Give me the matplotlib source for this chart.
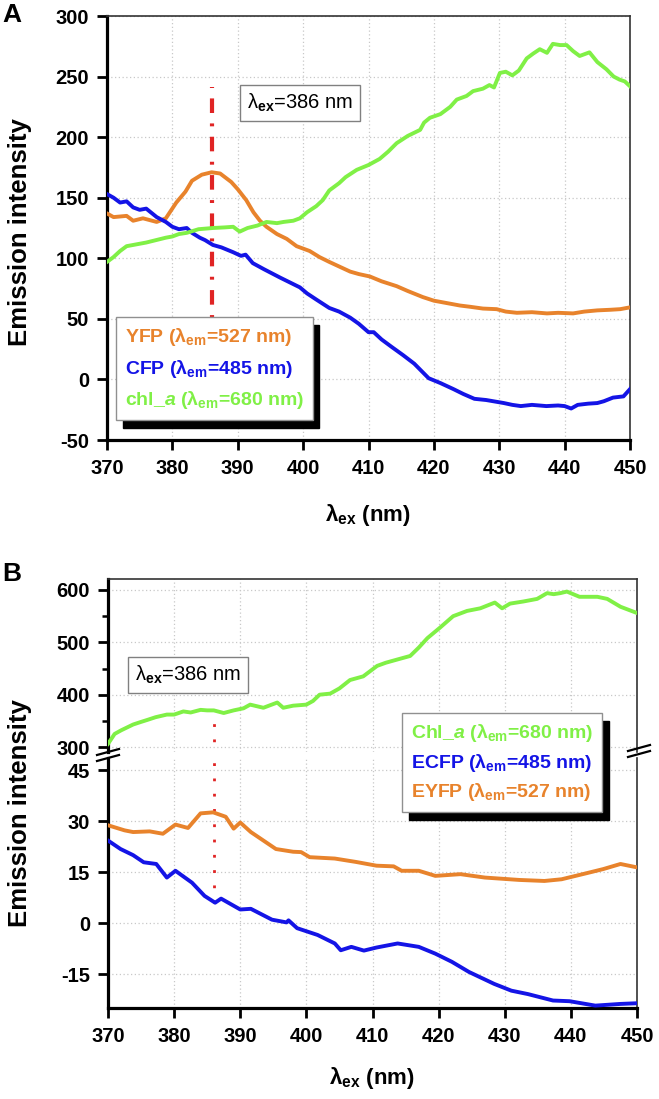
import matplotlib
matplotlib.use('Agg')
import matplotlib.pyplot as plt
from matplotlib.lines import Line2D
from matplotlib.ticker import MultipleLocator

plt.rcParams['font.family'] = ['Liberation Sans', 'DejaVu Sans']
plt.rcParams['font.weight'] = 'bold'
plt.rcParams['axes.unicode_minus'] = False
plt.rcParams['mathtext.fontset'] = 'custom'
plt.rcParams['mathtext.rm'] = 'Liberation Sans'
plt.rcParams['mathtext.bf'] = 'Liberation Sans:bold'
plt.rcParams['mathtext.it'] = 'Liberation Sans:italic:bold'

ORANGE = '#E8832C'
BLUE = '#1414E6'
GREEN = '#80F046'
RED = '#E02424'

# ---- panel A data ----
a_yfp_x = [370, 371, 373, 374, 375.5, 377.6, 379, 380.6, 382, 383, 384.5, 386, 387.3, 389, 390,
           391.3, 392.4, 393.4, 394.4, 396, 397.5, 399, 401, 402.5, 404, 405.6, 407.2, 408.5,
           410.2, 412, 414.3, 416, 418.3, 420, 422, 424, 425.5, 427.5, 429.6, 431, 432.7, 435,
           437.3, 439, 441.3, 443, 445, 447, 448.5, 450]
a_yfp_y = [137, 134, 135, 131, 133, 130, 133, 146, 155, 164, 169, 171, 170, 163, 157,
           148, 138, 131, 126, 120, 116, 110, 106, 101, 97, 93, 89, 87,
           85, 81, 77, 73, 68, 65, 63, 61, 60, 58.5, 58, 56, 55, 55.5,
           54.5, 55, 54.5, 56, 57, 57.5, 58, 59.5]

a_cfp_x = [370, 371, 372, 373, 374, 375, 376, 377.6, 379, 380, 381, 382.2, 383, 384.2, 385,
           386.2, 387.5, 389.3, 390.5, 391.2, 392.3, 394, 396.5, 398, 399.5, 400.6, 402, 404,
           405.5, 407.2, 408.5, 410, 410.8, 412, 413.5, 415.3, 417, 419.2, 421, 423, 424.5,
           426.2, 428, 430.7, 432, 433.3, 435, 437.2, 439, 440, 441, 442, 443.6, 445, 446,
           447.4, 449, 450]
a_cfp_y = [153, 150, 146, 147, 142, 140, 141, 134, 130, 126, 124, 125, 121, 117, 115,
           111, 109, 105, 102, 103, 96, 91, 84, 80, 76, 71, 66, 59,
           56, 51, 46, 39, 39, 33, 27, 20, 13, 1, -3, -8, -12,
           -16, -17, -19.5, -21, -22, -21, -22, -21.5, -22, -24, -21, -20, -19.5, -18,
           -15, -14, -8]

a_chl_x = [370, 371, 372, 373, 374, 376, 377.5, 379, 380, 381, 382.2, 384, 386.2, 388, 389.3,
           390.3, 391.5, 393, 394.4, 396, 397, 398.5, 399.5, 400.6, 402, 403, 404, 405.5,
           406.5, 408.2, 410, 411.7, 413, 414.3, 416, 417.9, 418.5, 419.4, 421, 422.5, 423.5,
           425, 426, 427.5, 428.5, 429.2, 430.1, 431, 432, 433, 434.2, 435.2, 436.2, 437.3,
           438.2, 439.3, 440.3, 441.3, 442.3, 443.8, 445, 446.4, 447.5, 448.4, 449.2, 450]
a_chl_y = [97, 101, 106, 110, 111, 113, 115, 117, 118, 120, 121, 124, 125, 125.5, 126,
           122, 125, 127, 130, 129, 130, 131, 133, 138, 143, 148, 156, 162,
           167, 173, 177, 182, 188, 195, 201, 206, 212, 216, 219, 225, 231,
           234, 238, 240, 243, 241, 253, 254, 251, 255, 265, 269, 272.6, 269.6,
           277, 276, 276, 271, 267, 270, 262, 256, 250, 247.5, 246, 242]

# ---- panel B data ----
b_chl_x = [370, 371, 372, 373.8, 375, 376, 377.2, 378.9, 380, 381.4, 382.5, 384, 385, 386,
           387.5, 389, 390.5, 391.5, 393.5, 395.6, 396.5, 398, 400, 401, 402, 403.6, 405,
           406.6, 408.6, 410.7, 412, 413.7, 415.7, 417, 418.3, 420.2, 422.2, 424.3, 426.3,
           428.5, 429.6, 430.8, 432.8, 434.9, 436.4, 437.4, 438.4, 439.4, 441.3, 444, 445.5,
           447.5, 450]
b_chl_y = [306, 325, 332, 343, 348, 352, 357, 362, 362, 368, 366, 371, 370, 370,
           365, 370, 374, 381, 375, 385, 375, 379, 381, 388, 400, 402, 412,
           428, 435, 455, 461, 467, 474, 490, 508, 528, 550, 560, 565,
           576, 565, 574, 578, 583, 594, 592, 594, 597, 587, 587, 583,
           568, 556]

b_eyfp_x = [370, 372.5, 373.8, 376.3, 378.3, 380.2, 382.1, 384, 385.9, 387.8, 389, 390, 391.6,
            395.4, 398, 399.2, 400.5, 404.3, 407.5, 410.6, 413.2, 414.4, 417, 419.5, 423.3,
            427, 432.2, 436, 438.6, 442.4, 444.9, 447.5, 450]
b_eyfp_y = [28.8, 27.3, 26.8, 27, 26.3, 29, 28, 32.3, 32.6, 31.3, 27.8, 29.6, 26.8,
            21.8, 21, 20.9, 19.4, 19, 18, 16.9, 16.7, 15.4, 15.4, 13.9, 14.4,
            13.4, 12.7, 12.4, 12.9, 14.7, 15.9, 17.4, 16.4]

b_ecfp_x = [370, 371.9, 373.8, 375.4, 377.3, 378.9, 380.2, 382.7, 384.6, 386.2, 387.1, 390,
            391.6, 394.8, 397, 397.3, 398.6, 401.7, 404.3, 405.2, 406.8, 408.7, 410.6, 413.8,
            417, 419.5, 422, 424.6, 428.4, 431, 433.5, 437.3, 439.8, 443.7, 447.5, 450]
b_ecfp_y = [24.3, 21.8, 20, 17.9, 17.4, 13.4, 15.4, 11.9, 8, 6, 7.2, 4,
            4.2, 1, 0.2, 0.8, -1.5, -3.5, -6, -8, -7, -8.1, -7.2, -6,
            -7, -9, -11.4, -14.4, -17.9, -19.9, -20.9, -22.8, -23, -24.3, -23.8, -23.6]

x_ticks = [370, 380, 390, 400, 410, 420, 430, 440, 450]
a_labels = ['YFP (λ$_{\\mathbf{em}}$=527 nm)', 'CFP (λ$_{\\mathbf{em}}$=485 nm)',
            'chl_$\\mathit{a}$ (λ$_{\\mathbf{em}}$=680 nm)']
b_labels = ['Chl_$\\mathit{a}$ (λ$_{\\mathbf{em}}$=680 nm)', 'ECFP (λ$_{\\mathbf{em}}$=485 nm)',
            'EYFP (λ$_{\\mathbf{em}}$=527 nm)']

W, H = 659, 1099
fig = plt.figure(figsize=(W / 100, H / 100), dpi=100)


def box(x0, y0, x1, y1):
    # pixel box (top-left origin) -> figure rect
    return [x0 / W, 1 - y1 / H, (x1 - x0) / W, (y1 - y0) / H]


def style(ax):
    for s in ['left', 'bottom']:
        ax.spines[s].set_linewidth(2.3)
        ax.spines[s].set_color('black')
    for s in ['top', 'right']:
        ax.spines[s].set_linewidth(1.2)
        ax.spines[s].set_color('#333333')
    ax.tick_params(axis='both', direction='out', length=7, width=2, labelsize=14.5)
    ax.tick_params(axis='x', pad=7)
    ax.tick_params(axis='y', pad=6)
    ax.tick_params(top=False, right=False)
    ax.grid(True, color='#c8c8c8', linestyle=(0, (1, 2)), linewidth=0.9)
    ax.set_axisbelow(True)


lw = 2.8
shadow = {'ox': 5, 'oy': -6, 'facecolor': 'black', 'edgecolor': 'black', 'alpha': 1}

# ================= panel A =================
axA = fig.add_axes(box(107, 16, 630, 440))
style(axA)
axA.vlines(386, 30, 241, color=RED, lw=3, linestyle=(0, (3.5, 2.5, 0.7, 2.5)), zorder=2)
lo, = axA.plot(a_yfp_x, a_yfp_y, color=ORANGE, lw=lw, zorder=3)
lb, = axA.plot(a_cfp_x, a_cfp_y, color=BLUE, lw=lw, zorder=3)
lg, = axA.plot(a_chl_x, a_chl_y, color=GREEN, lw=lw, zorder=3)
axA.set_xlim(370, 450)
axA.set_ylim(-50, 300)
axA.set_xticks(x_ticks)
axA.set_yticks([-50, 0, 50, 100, 150, 200, 250, 300])
axA.text(399.5, 228, 'λ$_{\\mathrm{ex}}$=386 nm', fontsize=14.5, fontweight='normal',
         ha='center', va='center', zorder=6,
         bbox=dict(boxstyle='square,pad=0.35', fc='white', ec='#808080', lw=1))
legA = axA.legend([lo, lb, lg], a_labels, loc='upper left', bbox_to_anchor=(0.017, 0.29),
                  borderaxespad=0, handlelength=0, handletextpad=0, labelcolor='linecolor',
                  prop={'weight': 'bold', 'size': 14}, fancybox=False, framealpha=1,
                  edgecolor='#909090', borderpad=0.45, labelspacing=0.5, shadow=shadow)
legA.get_frame().set_linewidth(1)
legA.set_zorder(10)
for h in legA.legend_handles:
    h.set_visible(False)

fig.text(12 / W, 1 - 15 / H, 'A', fontsize=19, fontweight='bold', ha='center', va='center')
fig.text(20 / W, 1 - 232 / H, 'Emission intensity', fontsize=18.5, fontweight='bold',
         rotation=90, ha='center', va='center')
fig.text(368 / W, 1 - 515 / H, 'λ$_{\\mathbf{ex}}$ (nm)', fontsize=16, fontweight='bold',
         ha='center', va='center')

# ================= panel B =================
axT = fig.add_axes(box(108, 579, 637, 752))
axB = fig.add_axes(box(108, 758, 637, 1008))
style(axT)
style(axB)
axT.spines['bottom'].set_visible(False)
axB.spines['top'].set_visible(False)
axT.tick_params(axis='x', bottom=False, labelbottom=False)
axT.yaxis.set_minor_locator(MultipleLocator(50))
axT.tick_params(axis='y', which='minor', length=4, width=1.8)

axT.vlines(386, 280, 367, color=RED, lw=2, linestyle=(0, (1, 4.5)), zorder=2)
axB.vlines(386, 6, 50, color=RED, lw=2, linestyle=(0, (1, 4.5)), zorder=2)
g2, = axT.plot(b_chl_x, b_chl_y, color=GREEN, lw=lw, zorder=3)
b2, = axB.plot(b_ecfp_x, b_ecfp_y, color=BLUE, lw=lw, zorder=3)
o2, = axB.plot(b_eyfp_x, b_eyfp_y, color=ORANGE, lw=lw, zorder=3)

for ax in (axT, axB):
    ax.set_xlim(370, 450)
    ax.set_xticks(x_ticks)
axT.set_ylim(290.5, 621)
axT.set_yticks([300, 400, 500, 600])
axB.set_ylim(-25, 48.6)
axB.set_yticks([-15, 0, 15, 30, 45])

axT.text(382.1, 438, 'λ$_{\\mathrm{ex}}$=386 nm', fontsize=14.5, fontweight='normal',
         ha='center', va='center', zorder=6,
         bbox=dict(boxstyle='square,pad=0.35', fc='white', ec='#808080', lw=1))

legB = fig.legend([g2, b2, o2], b_labels, loc='upper left',
                  bbox_to_anchor=(402 / W, 1 - 713 / H), borderaxespad=0,
                  handlelength=0, handletextpad=0, labelcolor='linecolor',
                  prop={'weight': 'bold', 'size': 14}, fancybox=False, framealpha=1,
                  edgecolor='#909090', borderpad=0.45, labelspacing=0.4, shadow=shadow)
legB.get_frame().set_linewidth(1)
for h in legB.legend_handles:
    h.set_visible(False)

# axis break marks
for cx, cy in [(108, 755), (639, 751)]:
    for dy in (-3, 3):
        fig.add_artist(Line2D([(cx - 11) / W, (cx + 11) / W],
                              [1 - (cy + dy + 3) / H, 1 - (cy + dy - 3) / H],
                              color='black', lw=1.6))

fig.text(12 / W, 1 - 574 / H, 'B', fontsize=19, fontweight='bold', ha='center', va='center')
fig.text(20 / W, 1 - 813 / H, 'Emission intensity', fontsize=18.5, fontweight='bold',
         rotation=90, ha='center', va='center')
fig.text(372 / W, 1 - 1078 / H, 'λ$_{\\mathbf{ex}}$ (nm)', fontsize=16, fontweight='bold',
         ha='center', va='center')

fig.savefig('out.png', dpi=100)
